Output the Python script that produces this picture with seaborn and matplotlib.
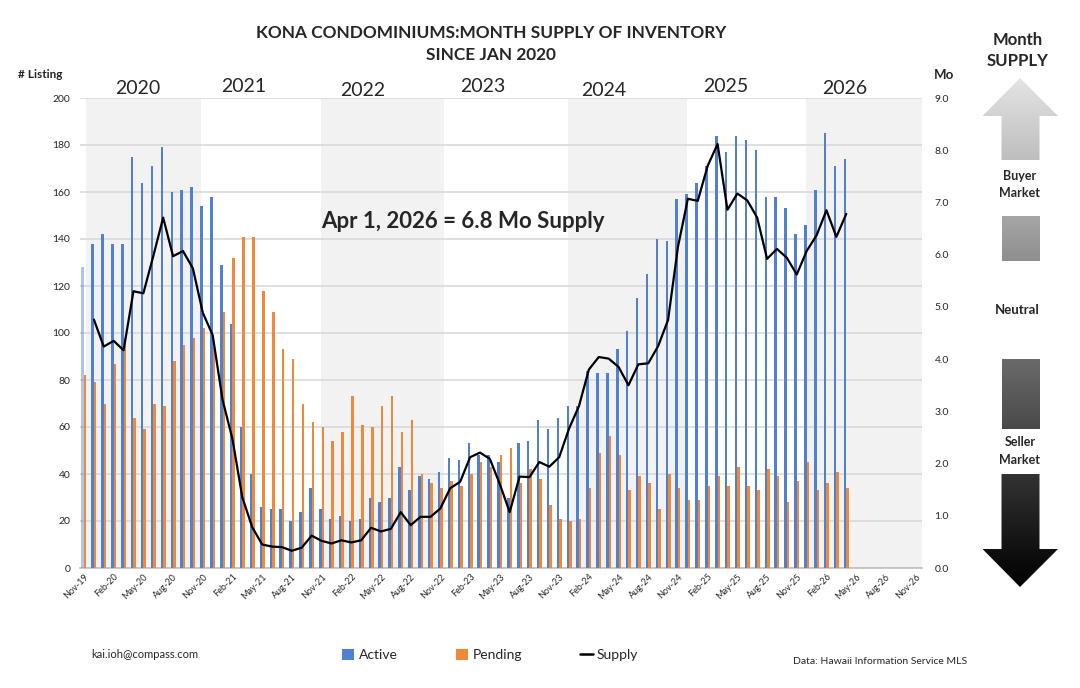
import numpy as np
import pandas as pd
import matplotlib
matplotlib.use("Agg")
import matplotlib.pyplot as plt
import matplotlib.transforms as mtrans
from matplotlib.patches import Polygon, Patch
from matplotlib.lines import Line2D
import seaborn as sns

# ---------------- data ----------------
months = pd.period_range("2019-11", "2026-11", freq="M").strftime("%b-%y").tolist()

active = [128, 138, 142, 138, 138, 175, 164, 171, 179, 160, 161, 162, 154, 158, 129, 104,
          60, 40, 26, 25, 25, 20, 24, 34, 25, 21, 22, 20, 21, 30, 28, 30, 43, 33, 39, 38,
          41, 47, 46, 53, 48, 48, 45, 30, 53, 54, 63, 59, 64, 69, 69, 84, 83, 83, 93, 101,
          115, 125, 140, 139, 157, 159, 164, 171, 184, 177, 184, 182, 178, 158, 158, 153,
          142, 146, 161, 185, 171, 174]
pending = [82, 79, 70, 87, 98, 64, 59, 70, 69, 88, 95, 98, 102, 94, 109, 132, 141, 141,
           118, 109, 93, 89, 70, 62, 60, 54, 58, 73, 61, 60, 69, 73, 58, 63, 40, 36, 34,
           37, 35, 40, 45, 43, 48, 51, 36, 42, 38, 27, 21, 20, 21, 34, 49, 56, 48, 33, 39,
           36, 25, 40, 34, 29, 29, 35, 39, 35, 43, 35, 33, 42, 39, 28, 37, 45, 33, 36, 41, 34]
supply = [np.nan, 4.76, 4.24, 4.35, 4.17, 5.30, 5.26, 5.97, 6.71, 5.97, 6.07, 5.74, 4.89,
          4.46, 3.22, 2.47, 1.35, 0.78, 0.45, 0.41, 0.40, 0.33, 0.39, 0.62, 0.52, 0.47,
          0.53, 0.49, 0.53, 0.77, 0.70, 0.75, 1.07, 0.82, 0.98, 0.98, 1.14, 1.53, 1.65,
          2.12, 2.21, 2.09, 1.61, 1.07, 1.75, 1.74, 2.03, 1.94, 2.12, 2.67, 3.10, 3.80,
          4.04, 4.01, 3.85, 3.50, 3.90, 3.92, 4.25, 4.75, 6.15, 7.07, 7.03, 7.70, 8.12,
          6.86, 7.17, 7.04, 6.71, 5.92, 6.11, 5.94, 5.62, 6.07, 6.37, 6.85, 6.34, 6.78]

tick_labels = ["Nov-19", "Feb-20", "May-20", "Aug-20", "Nov-20", "Feb-21", "May-21",
               "Aug-21", "Nov-21", "Feb-22", "May-22", "Aug-22", "Nov-22", "Feb-23",
               "May-23", "Aug-23", "Nov-23", "Feb-24", "May-24", "Aug-24", "Nov-24",
               "Feb-25", "May-25", "Aug-25", "Nov-25", "Feb-26", "May-26", "Aug-26",
               "Nov-26"]
years = ["2020", "2021", "2022", "2023", "2024", "2025", "2026"]

# ---------------- layout / style ----------------
W, H = 1080, 688
BLUE = "#5080D2"
ORANGE = "#F0883A"
GRID = "#D9D9D9"
BAND = "#F2F2F2"

sns.set_style("white")
plt.rcParams["font.family"] = ["Lato", "DejaVu Sans"]

fig = plt.figure(figsize=(W / 100, H / 100), dpi=100)
L, R, T, B = 80, 922, 98, 568
ax = fig.add_axes([L / W, 1 - B / H, (R - L) / W, (B - T) / H])
XMIN, XMAX = -0.4, 84.65
pxu = (R - L) / (XMAX - XMIN)

def px2x(px):
    return XMIN + (px - L) / pxu

# background year bands
for a, b in [(86, 201), (321, 444), (568, 687), (806, R)]:
    ax.axvspan(px2x(a), px2x(b), color=BAND, zorder=0, lw=0)

n = len(active)
df = pd.DataFrame({
    "month": months[:n] * 2,
    "series": ["Active"] * n + ["Pending"] * n,
    "value": active + pending,
})
sns.barplot(data=df, x="month", y="value", hue="series", order=months,
            hue_order=["Active", "Pending"],
            palette={"Active": BLUE, "Pending": ORANGE}, saturation=1,
            width=0.5, gap=0, dodge=True, errorbar=None, legend=False,
            ax=ax, zorder=3, linewidth=0)
# first (partially out of view) active bar is faded
ax.containers[0][0].set_alpha(0.45)

ax.set_ylim(0, 200)
ax.set_yticks(range(0, 201, 20))
ax.yaxis.grid(True, color=GRID, lw=1.2)
ax.set_axisbelow(True)
ax.set_xticks(range(0, len(months), 3))
ax.set_xticklabels(tick_labels, rotation=45, ha="right", rotation_mode="anchor",
                   fontsize=6.5)
ax.tick_params(axis="x", length=0, pad=3)
ax.tick_params(axis="y", length=0, pad=7, labelsize=7.5)
ax.set_xlabel("")
ax.set_ylabel("")
for s in ["left", "right", "top"]:
    ax.spines[s].set_visible(False)
ax.spines["bottom"].set_color("#BFBFBF")
ax.spines["bottom"].set_linewidth(1.2)

ax2 = ax.twinx()
sns.lineplot(x=np.arange(n), y=supply, ax=ax2, color="black", lw=1.6, zorder=5)
ax2.set_ylim(0, 9)
ax2.set_yticks(range(0, 10))
ax2.set_yticklabels([f"{v:.1f}" for v in range(0, 10)])
ax2.tick_params(axis="y", length=0, pad=9, labelsize=7.5)
for s in ax2.spines.values():
    s.set_visible(False)
ax2.grid(False)
ax.set_xlim(XMIN, XMAX)
ax2.set_xlim(XMIN, XMAX)

# year labels above plot
trans = mtrans.blended_transform_factory(ax.transData, fig.transFigure)
year_px = [(138, 88), (244, 87), (363, 90), (483, 87), (604, 90), (726, 87), (845, 88)]
for yr, (xp, yp) in zip(years, year_px):
    ax.text(px2x(xp), 1 - yp / H, yr, transform=trans, ha="center", va="center",
            fontsize=14)

# ---------------- overlay (texts, legend, arrows) ----------------
ov = fig.add_axes([0, 0, 1, 1], zorder=10)
ov.set_xlim(0, W)
ov.set_ylim(H, 0)
ov.axis("off")
ov.patch.set_alpha(0)

ov.text(491, 33, "KONA CONDOMINIUMS:MONTH SUPPLY OF INVENTORY", ha="center",
        va="center", fontsize=12.4, fontweight="bold")
ov.text(491, 55, "SINCE JAN 2020", ha="center", va="center", fontsize=12.4,
        fontweight="bold")
ov.text(40, 75, "# Listing", ha="center", va="center", fontsize=8.5, fontweight="bold")
ov.text(944, 75, "Mo", ha="center", va="center", fontsize=9.5, fontweight="bold")
ov.text(463, 222, "Apr 1, 2026 = 6.8 Mo Supply", ha="center", va="center",
        fontsize=16, fontweight="bold")
ov.text(145, 655, "kai.ioh@compass.com", ha="center", va="center", fontsize=8)
ov.text(880, 661, "Data: Hawaii Information Service MLS", ha="center", va="center",
        fontsize=7.5)

ov.text(1018, 40, "Month", ha="center", va="center", fontsize=12, fontweight="bold")
ov.text(1018, 61, "SUPPLY", ha="center", va="center", fontsize=12, fontweight="bold")
ov.text(1020, 176, "Buyer", ha="center", va="center", fontsize=9, fontweight="bold")
ov.text(1020, 193, "Market", ha="center", va="center", fontsize=9, fontweight="bold")
ov.text(1017, 310, "Neutral", ha="center", va="center", fontsize=9.5, fontweight="bold")
ov.text(1020, 442, "Seller", ha="center", va="center", fontsize=9, fontweight="bold")
ov.text(1020, 460, "Market", ha="center", va="center", fontsize=9, fontweight="bold")


def grad_shape(pts, c_top, c_bot):
    poly = Polygon(pts, closed=True, facecolor="none", edgecolor="none")
    ov.add_patch(poly)
    xs = [p[0] for p in pts]
    ys = [p[1] for p in pts]
    ct = np.array(matplotlib.colors.to_rgb(c_top))
    cb = np.array(matplotlib.colors.to_rgb(c_bot))
    t = np.linspace(0, 1, 64)[:, None]
    img = (ct * (1 - t) + cb * t)[:, None, :]
    im = ov.imshow(img, extent=(min(xs), max(xs), max(ys), min(ys)),
                   aspect="auto", interpolation="bilinear", zorder=1)
    im.set_clip_path(poly)


xl, xr, hl, hr, cx = 1001.5, 1039.5, 982.5, 1058, 1020
grad_shape([(cx, 78), (hr, 116), (xr, 116), (xr, 160), (xl, 160), (xl, 116), (hl, 116)],
           "#E4E4E4", "#BEBEBE")
grad_shape([(xl, 216), (xr, 216), (xr, 261), (xl, 261)], "#A6A6A6", "#8E8E8E")
grad_shape([(xl, 359), (xr, 359), (xr, 429), (xl, 429)], "#6A6A6A", "#4A4A4A")
grad_shape([(xl, 474), (xr, 474), (xr, 549), (hr, 549), (cx, 587), (hl, 549), (xl, 549)],
           "#333333", "#000000")
ov.set_xlim(0, W)
ov.set_ylim(H, 0)

handles = [Patch(facecolor=BLUE, edgecolor="none"),
           Patch(facecolor=ORANGE, edgecolor="none"),
           Line2D([0], [0], color="black", lw=1.8)]
fig.legend(handles, ["Active", "Pending", "Supply"], loc="center",
           bbox_to_anchor=(490 / W, 1 - 655 / H), ncol=3, frameon=False,
           fontsize=10, columnspacing=4.2, handlelength=0.9, handleheight=0.9,
           handletextpad=0.3)

fig.savefig("out.png", dpi=100, facecolor="white")
